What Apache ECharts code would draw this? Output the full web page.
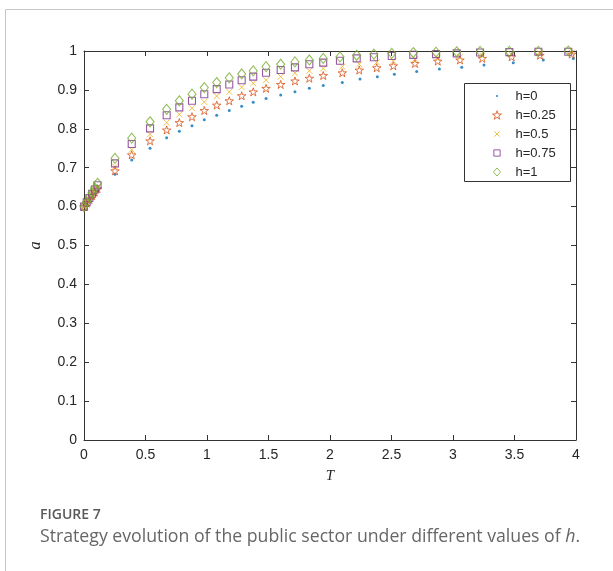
<!DOCTYPE html>
<html>
<head>
<meta charset="utf-8">
<script src="https://cdn.jsdelivr.net/npm/echarts@6/dist/echarts.min.js"></script>
<style>
html,body{margin:0;padding:0;background:#fff;}
#chart{width:613px;height:571px;}
</style>
</head>
<body>
<div id="chart"></div>
<script>
// time steps (solver output, slightly different per group at the end)
var tHi  = [0, 0.022, 0.044, 0.066, 0.088, 0.11, 0.252, 0.388, 0.537, 0.672, 0.775, 0.878, 0.978, 1.079, 1.181, 1.282, 1.376, 1.480, 1.599, 1.715, 1.832, 1.945,
            2.081, 2.217, 2.357, 2.502, 2.677, 2.862, 3.030, 3.220, 3.458, 3.694, 3.937];
var tMid = [0, 0.022, 0.044, 0.066, 0.088, 0.11, 0.252, 0.388, 0.537, 0.672, 0.775, 0.878, 0.978, 1.079, 1.181, 1.282, 1.376, 1.480, 1.599, 1.715, 1.832, 1.945,
            2.100, 2.238, 2.380, 2.515, 2.691, 2.876, 3.057, 3.238, 3.477, 3.707, 3.965];
var tLo  = [0, 0.022, 0.044, 0.066, 0.088, 0.11, 0.252, 0.388, 0.537, 0.672, 0.775, 0.878, 0.978, 1.079, 1.181, 1.282, 1.376, 1.480, 1.599, 1.715, 1.832, 1.945,
            2.100, 2.244, 2.385, 2.523, 2.705, 2.889, 3.071, 3.252, 3.490, 3.734, 3.978];

// a values for each h
var h0   = [0.600, 0.608, 0.617, 0.625, 0.633, 0.641, 0.683, 0.720, 0.750, 0.777, 0.794, 0.808, 0.823, 0.835, 0.847, 0.858, 0.868, 0.878, 0.887, 0.895, 0.904, 0.911,
            0.919, 0.928, 0.934, 0.940, 0.947, 0.954, 0.958, 0.964, 0.970, 0.977, 0.981];
var h025 = [0.600, 0.609, 0.618, 0.628, 0.637, 0.646, 0.692, 0.733, 0.769, 0.797, 0.816, 0.831, 0.847, 0.861, 0.872, 0.885, 0.895, 0.904, 0.914, 0.923, 0.930, 0.937,
            0.944, 0.951, 0.957, 0.962, 0.968, 0.974, 0.977, 0.981, 0.985, 0.989, 0.992];
var h05  = [0.600, 0.610, 0.620, 0.630, 0.641, 0.651, 0.703, 0.746, 0.786, 0.816, 0.837, 0.853, 0.869, 0.884, 0.895, 0.907, 0.917, 0.925, 0.934, 0.943, 0.949, 0.955,
            0.960, 0.966, 0.971, 0.974, 0.979, 0.983, 0.985, 0.988, 0.991, 0.994, 0.996];
var h075 = [0.600, 0.611, 0.622, 0.633, 0.644, 0.655, 0.711, 0.761, 0.801, 0.835, 0.855, 0.872, 0.889, 0.902, 0.914, 0.925, 0.934, 0.944, 0.951, 0.958, 0.966, 0.970,
            0.975, 0.981, 0.984, 0.987, 0.990, 0.992, 0.994, 0.996, 0.997, 0.998, 0.998];
var h1   = [0.600, 0.612, 0.624, 0.636, 0.648, 0.660, 0.724, 0.776, 0.818, 0.850, 0.872, 0.889, 0.906, 0.919, 0.931, 0.941, 0.949, 0.960, 0.966, 0.972, 0.977, 0.981,
            0.985, 0.989, 0.992, 0.994, 0.996, 0.997, 0.998, 0.999, 0.999, 0.999, 1.000];

var names = ['h=0', 'h=0.25', 'h=0.5', 'h=0.75', 'h=1'];
var xTicks = [0, 0.5, 1, 1.5, 2, 2.5, 3, 3.5, 4];
var yTicks = [0, 0.1, 0.2, 0.3, 0.4, 0.5, 0.6, 0.7, 0.8, 0.9, 1];

var colors = ['#0072BD', '#D95319', '#EDB120', '#7E2F8E', '#77AC30'];
var starPath = 'path://M10,0 L12.25,6.91 L19.51,6.91 L13.63,11.18 L15.88,18.09 L10,13.82 L4.12,18.09 L6.37,11.18 L0.49,6.91 L7.75,6.91 Z';
var crossPath = 'path://M0,0 L10,10 M10,0 L0,10';
// legend icons: padded to a square box so the marks keep their small size
var dotIcon = 'path://M0,0 L0,0 M10,10 L10,10 M3.8,5 A1.2,1.2 0 1,1 6.2,5 A1.2,1.2 0 1,1 3.8,5 Z';
var crossIcon = 'path://M0,0 L0,0 M10,10 L10,10 M2,2 L8,8 M8,2 L2,8';
var rectIcon = 'path://M0,0 L0,0 M10,10 L10,10 M1.5,1.5 L8.5,1.5 L8.5,8.5 L1.5,8.5 Z';
var diamondIcon = 'path://M0,0 L0,0 M10,10 L10,10 M5,0.5 L9,5 L5,9.5 L1,5 Z';

function pairs(t, v) {
	return t.map(function(x, i){ return [x, v[i]]; });
}

var axisColor = '#333';
var tickFont = {color: '#262626', fontSize: 14, fontFamily: 'Liberation Sans, Arial, sans-serif'};
var hollow = 'rgba(0,0,0,0)';
function outline(c) {
	return {color: hollow, borderColor: c, borderWidth: 1};
}

var dom = document.getElementById('chart');
var myChart = echarts.init(dom, null, {renderer: 'canvas'});

function boxAxis(pos) {
	return {
		type: 'value', position: pos,
		axisLine: {show: true, onZero: false, lineStyle: {color: axisColor, width: 1}},
		axisTick: {show: true, inside: true, length: 5, lineStyle: {color: axisColor}},
		splitLine: {show: false}
	};
}

var xBottom = Object.assign(boxAxis('bottom'), {
	min: xTicks[0], max: xTicks[xTicks.length - 1], interval: 0.5,
	name: 'T', nameLocation: 'middle', nameGap: 29,
	nameTextStyle: {fontFamily: 'Liberation Serif, serif', fontStyle: 'italic', fontSize: 15, color: '#262626'},
	axisLabel: Object.assign({margin: 8}, tickFont)
});
var xTop = Object.assign(boxAxis('top'), {
	min: xTicks[0], max: xTicks[xTicks.length - 1], interval: 0.5,
	axisLabel: {show: false}
});
var yLeft = Object.assign(boxAxis('left'), {
	min: yTicks[0], max: yTicks[yTicks.length - 1], interval: 0.1,
	name: 'a', nameLocation: 'middle', nameGap: 40, nameRotate: 90,
	nameTextStyle: {fontFamily: 'Liberation Serif, serif', fontStyle: 'italic', fontSize: 16, color: '#262626'},
	axisLabel: Object.assign({margin: 7}, tickFont)
});
var yRight = Object.assign(boxAxis('right'), {
	min: yTicks[0], max: yTicks[yTicks.length - 1], interval: 0.1,
	axisLabel: {show: false}
});

var option = {
	backgroundColor: '#fff',
	animation: false,
	grid: {left: 84, top: 51, right: 37, bottom: 131},
	xAxis: [xBottom, xTop],
	yAxis: [yLeft, yRight],
	legend: {
		orient: 'vertical',
		left: 492, top: 89,
		itemWidth: 9, itemHeight: 9, itemGap: 5,
		padding: 0,
		textStyle: {fontSize: 13, color: '#262626', fontFamily: 'Liberation Sans, Arial, sans-serif', lineHeight: 14, padding: [0, 0, 0, 9]},
		data: [
			{name: names[0], icon: dotIcon, itemStyle: {color: colors[0], borderWidth: 0}},
			{name: names[1], icon: starPath, itemStyle: outline(colors[1])},
			{name: names[2], icon: crossIcon, itemStyle: outline(colors[2])},
			{name: names[3], icon: rectIcon, itemStyle: outline(colors[3])},
			{name: names[4], icon: diamondIcon, itemStyle: outline(colors[4])}
		]
	},
	graphic: [
		// page frame
		{type: 'line', shape: {x1: 5.5, y1: 9.5, x2: 613, y2: 9.5}, style: {stroke: '#c8c8c8', lineWidth: 1}},
		{type: 'line', shape: {x1: 5.5, y1: 9.5, x2: 5.5, y2: 571}, style: {stroke: '#c8c8c8', lineWidth: 1}},
		// legend box
		{type: 'rect', shape: {x: 464.5, y: 83.5, width: 106, height: 98}, style: {fill: 'none', stroke: '#333', lineWidth: 1}, z: 100},
		// caption
		{type: 'text', left: 40, top: 508, style: {text: 'FIGURE 7', fill: '#595959', font: '600 14px "Open Sans", sans-serif'}},
		{type: 'text', left: 40, top: 528, style: {
			text: 'Strategy evolution of the public sector under different values of {i|h}.',
			fill: '#666', font: '17.7px "Open Sans", sans-serif',
			rich: {i: {fontStyle: 'italic', fontSize: 17.7, fontFamily: 'Open Sans', fill: '#666'}}
		}}
	],
	series: [
		{
			name: names[0], type: 'scatter', data: pairs(tLo, h0),
			symbol: 'circle', symbolSize: 3,
			itemStyle: {color: colors[0]}
		},
		{
			name: names[1], type: 'scatter', data: pairs(tMid, h025),
			symbol: starPath, symbolSize: 8.5, symbolKeepAspect: true,
			itemStyle: outline(colors[1])
		},
		{
			name: names[2], type: 'scatter', data: pairs(tMid, h05),
			symbol: crossPath, symbolSize: 6,
			itemStyle: outline(colors[2])
		},
		{
			name: names[3], type: 'scatter', data: pairs(tHi, h075),
			symbol: 'rect', symbolSize: 7,
			itemStyle: {color: hollow, borderColor: colors[3], borderWidth: 1.1}
		},
		{
			name: names[4], type: 'scatter', data: pairs(tHi, h1),
			symbol: 'diamond', symbolSize: [8, 10],
			itemStyle: {color: hollow, borderColor: colors[4], borderWidth: 1.1}
		}
	]
};

if (option && typeof option === 'object') {
	myChart.setOption(option, true);
}
</script>
</body>
</html>
